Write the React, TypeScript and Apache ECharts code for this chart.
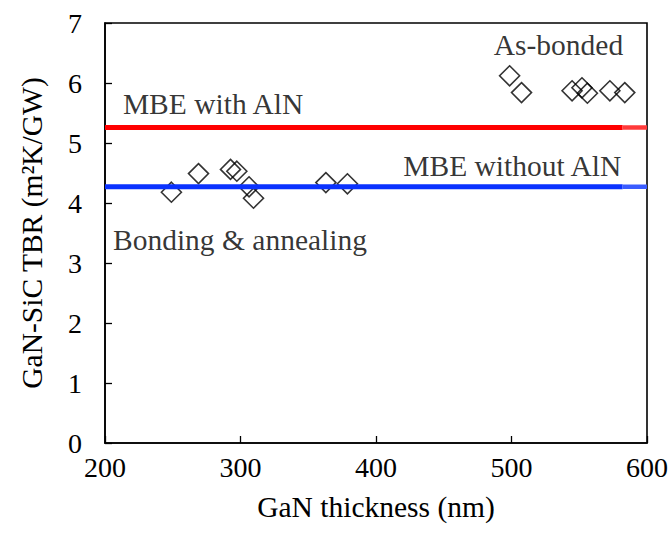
import React, { useEffect, useRef } from "react";
import * as echarts from "echarts";

const bondingX = [249, 269, 292.6, 297.3, 306.3, 309.6, 363, 378.9];
const bondingY = [4.18, 4.49, 4.56, 4.53, 4.27, 4.08, 4.34, 4.32];
const asBondedX = [498.6, 507.4, 544.7, 552, 556, 572.6, 583.6];
const asBondedY = [6.12, 5.84, 5.87, 5.92, 5.83, 5.87, 5.84];
const mbeWithAlN = 5.26;
const mbeWithoutAlN = 4.27;
const lineMainX = [200, 582];
const lineTailX = [582, 600];
const annotations = [
  { text: "MBE with AlN", x: 213.2, y: 5.65, align: "left" },
  { text: "MBE without AlN", x: 581, y: 4.62, align: "right" },
  { text: "As-bonded", x: 582.4, y: 6.63, align: "right" },
  { text: "Bonding & annealing", x: 205.9, y: 3.38, align: "left" },
];

const FONT = "'Liberation Serif', 'Times New Roman', serif";
const FS = 29.5;

export default function App() {
  const ref = useRef<HTMLDivElement>(null);
  useEffect(() => {
    const chart = echarts.init(ref.current!, null, { renderer: "svg" });
    const diamond = {
      symbol: "diamond",
      symbolSize: 20,
      itemStyle: { color: "transparent", borderColor: "#000", borderWidth: 1.6 },
    };
    const hline = (xs: number[], y: number, color: string, width: number) => ({
      type: "line",
      data: xs.map((x) => [x, y]),
      symbol: "none",
      silent: true,
      lineStyle: { color, width },
    });
    chart.setOption({
      animation: false,
      textStyle: { fontFamily: FONT },
      grid: {
        left: 105,
        right: 24,
        top: 23,
        bottom: 90,
        show: true,
        borderColor: "#000",
        borderWidth: 1.6,
        backgroundColor: "transparent",
      },
      xAxis: {
        type: "value",
        min: 200,
        max: 600,
        interval: 100,
        name: "GaN thickness (nm)",
        nameLocation: "middle",
        nameGap: 49,
        nameTextStyle: { fontFamily: FONT, fontSize: FS, color: "#000" },
        axisLine: { lineStyle: { color: "#000", width: 1.6 } },
        axisTick: { inside: true, length: 7, lineStyle: { color: "#000", width: 1.3 } },
        axisLabel: { fontFamily: FONT, fontSize: 28, color: "#000", margin: 10 },
        splitLine: { show: false },
      },
      yAxis: {
        type: "value",
        min: 0,
        max: 7,
        interval: 1,
        name: "GaN-SiC TBR (m\u00B2K/GW)",
        nameLocation: "middle",
        nameGap: 58,
        nameTextStyle: { fontFamily: FONT, fontSize: FS, color: "#000" },
        axisLine: { lineStyle: { color: "#000", width: 1.6 } },
        axisTick: { inside: true, length: 7, lineStyle: { color: "#000", width: 1.3 } },
        axisLabel: { fontFamily: FONT, fontSize: 28, color: "#000", margin: 23 },
        splitLine: { show: false },
      },
      series: [
        hline(lineMainX, mbeWithAlN, "#ff0000", 5),
        hline(lineTailX, mbeWithAlN, "#ff3a3a", 4.5),
        hline(lineMainX, mbeWithoutAlN, "#0a32ff", 5),
        hline(lineTailX, mbeWithoutAlN, "#3a5cff", 4.5),
        {
          type: "scatter",
          ...diamond,
          data: bondingX.map((x, i) => [x, bondingY[i]]),
        },
        {
          type: "scatter",
          ...diamond,
          data: asBondedX.map((x, i) => [x, asBondedY[i]]),
        },
        {
          type: "scatter",
          symbolSize: 0,
          silent: true,
          data: annotations.map((a) => ({
            value: [a.x, a.y],
            label: {
              show: true,
              formatter: a.text,
              position: a.align === "left" ? "right" : "left",
              distance: 0,
              fontFamily: FONT,
              fontSize: FS,
              color: "#000",
            },
          })),
        },
      ],
    });
    return () => chart.dispose();
  }, []);
  return (
    <div
      ref={ref}
      style={{ position: "absolute", left: 0, top: 0, width: 671, height: 533 }}
    />
  );
}
